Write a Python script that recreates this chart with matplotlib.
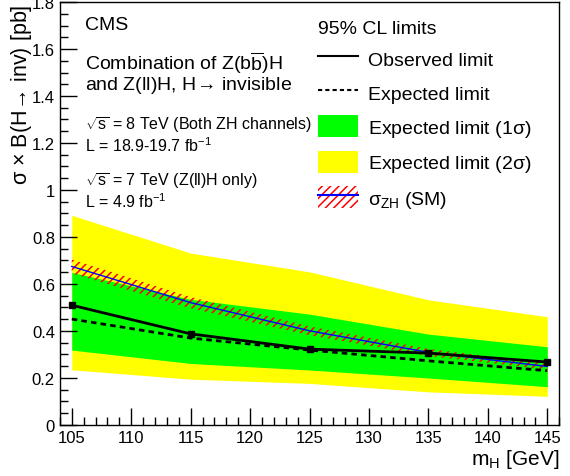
import matplotlib
matplotlib.use("Agg")
import matplotlib.pyplot as plt
from matplotlib.patches import Patch
from matplotlib.lines import Line2D
from matplotlib.ticker import MultipleLocator

plt.rcParams['font.family'] = ['Liberation Sans', 'DejaVu Sans']
plt.rcParams['mathtext.fontset'] = 'custom'
plt.rcParams['mathtext.rm'] = 'Liberation Sans'
plt.rcParams['mathtext.it'] = 'Liberation Sans'
plt.rcParams['hatch.linewidth'] = 1.1

# mass points and limits (pb)
mass = [105, 115, 125, 135, 145]
observed = [0.509, 0.387, 0.322, 0.305, 0.267]
expected = [0.450, 0.369, 0.318, 0.272, 0.230]
exp_1s_lo = [0.318, 0.261, 0.233, 0.199, 0.162]
exp_1s_hi = [0.649, 0.534, 0.471, 0.386, 0.332]
exp_2s_lo = [0.234, 0.194, 0.176, 0.140, 0.121]
exp_2s_hi = [0.892, 0.731, 0.651, 0.532, 0.460]
sm_xsec = [0.674, 0.520, 0.400, 0.308, 0.248]
sm_unc = [0.030, 0.024, 0.019, 0.015, 0.013]

fig = plt.figure(figsize=(5.7, 4.77), dpi=100)
ax = fig.add_axes([0.105, 0.1075, 0.876, 0.886])

ax.fill_between(mass, exp_2s_lo, exp_2s_hi, color='#ffff00', lw=0)
ax.fill_between(mass, exp_1s_lo, exp_1s_hi, color='#00ff00', lw=0)

sm_lo = [s - u for s, u in zip(sm_xsec, sm_unc)]
sm_hi = [s + u for s, u in zip(sm_xsec, sm_unc)]
ax.fill_between(mass, sm_lo, sm_hi, facecolor='none', edgecolor='red', hatch='////', lw=0)
ax.plot(mass, sm_xsec, color='blue', lw=1.0)

ax.plot(mass, expected, color='black', lw=2, ls=(0, (2, 1.5)))
ax.plot(mass, observed, color='black', lw=2, marker='s', ms=4)

ax.set_xlim(104, 146)
ax.set_ylim(0, 1.8)
ax.xaxis.set_major_locator(MultipleLocator(5))
ax.xaxis.set_minor_locator(MultipleLocator(1))
ax.yaxis.set_minor_locator(MultipleLocator(0.05))
ax.set_yticks([0, 0.2, 0.4, 0.6, 0.8, 1.0, 1.2, 1.4, 1.6, 1.8])
ax.set_yticklabels(['0', '0.2', '0.4', '0.6', '0.8', '1', '1.2', '1.4', '1.6', '1.8'])
ax.tick_params(which='both', direction='in', labelsize=12, width=1)
ax.tick_params(which='major', length=12)
ax.tick_params(which='minor', length=6)
ax.tick_params(axis='x', pad=4)
for sp in ax.spines.values():
    sp.set_linewidth(1)

ax.set_xlabel(r'm$_{\mathrm{H}}$ [GeV]', fontsize=15, loc='right', labelpad=1)
ax.set_ylabel(r'$\sigma$ $\times$ B(H$\!\rightarrow\!$ inv) [pb]', fontsize=15.5, loc='top')
ax.yaxis.set_label_coords(-0.052, 0.996)

tx = 0.05
ax.text(tx, 0.967, 'CMS', transform=ax.transAxes, fontsize=14, va='top')
ax.text(tx, 0.888, r'Combination of Z(b$\overline{\mathrm{b}}$)H', transform=ax.transAxes, fontsize=14, va='top')
ax.text(tx, 0.83, r'and Z(ll)H, H$\!\rightarrow\!$ invisible', transform=ax.transAxes, fontsize=14, va='top')
ax.text(tx, 0.735, r'$\sqrt{\mathrm{s}}$ = 8 TeV (Both ZH channels)', transform=ax.transAxes, fontsize=11.5, va='top')
ax.text(tx, 0.686, r'L = 18.9-19.7 fb$^{\mathrm{-1}}$', transform=ax.transAxes, fontsize=11.5, va='top')
ax.text(tx, 0.603, r'$\sqrt{\mathrm{s}}$ = 7 TeV (Z(ll)H only)', transform=ax.transAxes, fontsize=11.5, va='top')
ax.text(tx, 0.553, r'L = 4.9 fb$^{\mathrm{-1}}$', transform=ax.transAxes, fontsize=11.5, va='top')

handles = [
    Line2D([], [], color='black', lw=1.5),
    Line2D([], [], color='black', lw=1.5, ls=(0, (2, 1.5))),
    Patch(facecolor='#00ff00', edgecolor='none'),
    Patch(facecolor='#ffff00', edgecolor='none'),
    (Patch(facecolor='none', edgecolor='red', hatch='////', lw=0), Line2D([], [], color='blue', lw=1.5)),
]
labels = ['Observed limit', 'Expected limit', r'Expected limit (1$\sigma$)',
          r'Expected limit (2$\sigma$)', r'$\sigma_{\mathrm{ZH}}$ (SM)']
leg = ax.legend(handles, labels, title='95% CL limits', loc='upper left',
                bbox_to_anchor=(0.49, 0.991), frameon=False, fontsize=14,
                title_fontsize=14, handlelength=2.05, handleheight=1.35,
                labelspacing=0.62, handletextpad=0.5, borderaxespad=0.3)
leg._legend_box.align = 'left'
leg._legend_box.sep = 8

fig.savefig('out.png', dpi=100)
